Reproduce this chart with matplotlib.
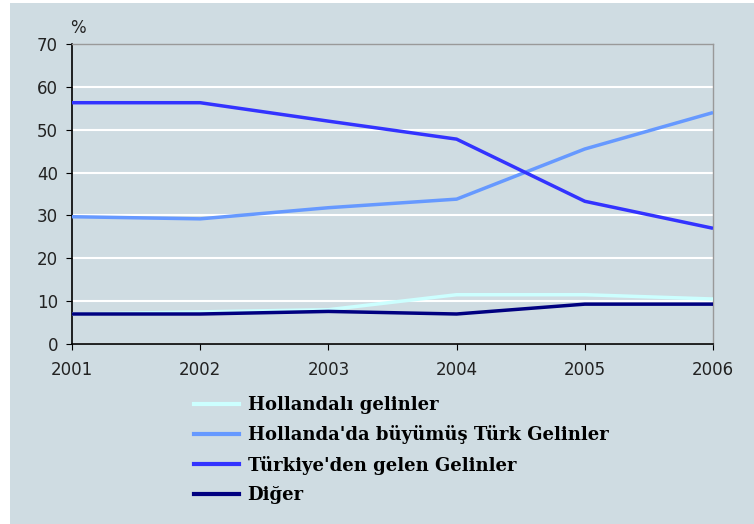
import matplotlib.pyplot as plt
from matplotlib.lines import Line2D
from matplotlib.patches import Rectangle

# --- data ---
years = [2001, 2002, 2003, 2004, 2005, 2006]
hollandali = [7.0, 7.5, 8.0, 11.5, 11.5, 10.5]
buyumus = [29.7, 29.2, 31.8, 33.8, 45.5, 54.0]
turkiye = [56.3, 56.3, 52.0, 47.8, 33.3, 27.0]
diger = [7.0, 7.0, 7.6, 7.0, 9.3, 9.3]

labels = ["Hollandalı gelinler",
          "Hollanda'da büyümüş Türk Gelinler",
          "Türkiye'den gelen Gelinler",
          "Diğer"]
colors = ["#ccffff", "#6699ff", "#3333ff", "#000080"]
yticks = [0, 10, 20, 30, 40, 50, 60, 70]

bg = "#cfdce2"
fig = plt.figure(figsize=(7.54, 5.24), dpi=100)
fig.patch.set_facecolor("white")
# grey-blue panel (white strip on the left / top like the reference)
fig.patches.append(Rectangle((10 / 754, 0), 1 - 10 / 754, 1 - 3 / 524,
                             transform=fig.transFigure, facecolor=bg,
                             edgecolor="none", zorder=-10))

ax = fig.add_axes([72 / 754, 1 - 344 / 524, (713 - 72) / 754, 300 / 524])
ax.set_facecolor(bg)

series = [hollandali, buyumus, turkiye, diger]
for vals, c in zip(series, colors):
    ax.plot(years, vals, color=c, lw=2.5, solid_capstyle="butt", zorder=3)

ax.set_xlim(2001, 2006)
ax.set_ylim(0, 70)
ax.set_xticks(years)
ax.set_yticks(yticks)
ax.yaxis.grid(True, color="white", lw=1.5, zorder=0)
ax.set_axisbelow(True)
ax.tick_params(labelsize=12, length=4, color="black", colors="#222222", pad=6)
ax.tick_params(axis="x", pad=8)

for s in ["top", "right"]:
    ax.spines[s].set_color("#999999")
    ax.spines[s].set_linewidth(1)
for s in ["left", "bottom"]:
    ax.spines[s].set_color("black")
    ax.spines[s].set_linewidth(1.2)

fig.text(78 / 754, 1 - 28 / 524, "%", fontsize=12, ha="center", va="center",
         color="#222222")

# legend below the plot, bold serif labels
handles = [Line2D([0], [0], color=c, lw=3) for c in colors]
leg = fig.legend(handles, labels, loc="upper left",
                 bbox_to_anchor=(178 / 754, 1 - 380 / 524), frameon=False,
                 handlelength=2.5, handletextpad=0.45, labelspacing=0.62,
                 prop={"family": "DejaVu Serif", "weight": "bold", "size": 13})

fig.savefig("out.png", dpi=100, facecolor=fig.get_facecolor())
